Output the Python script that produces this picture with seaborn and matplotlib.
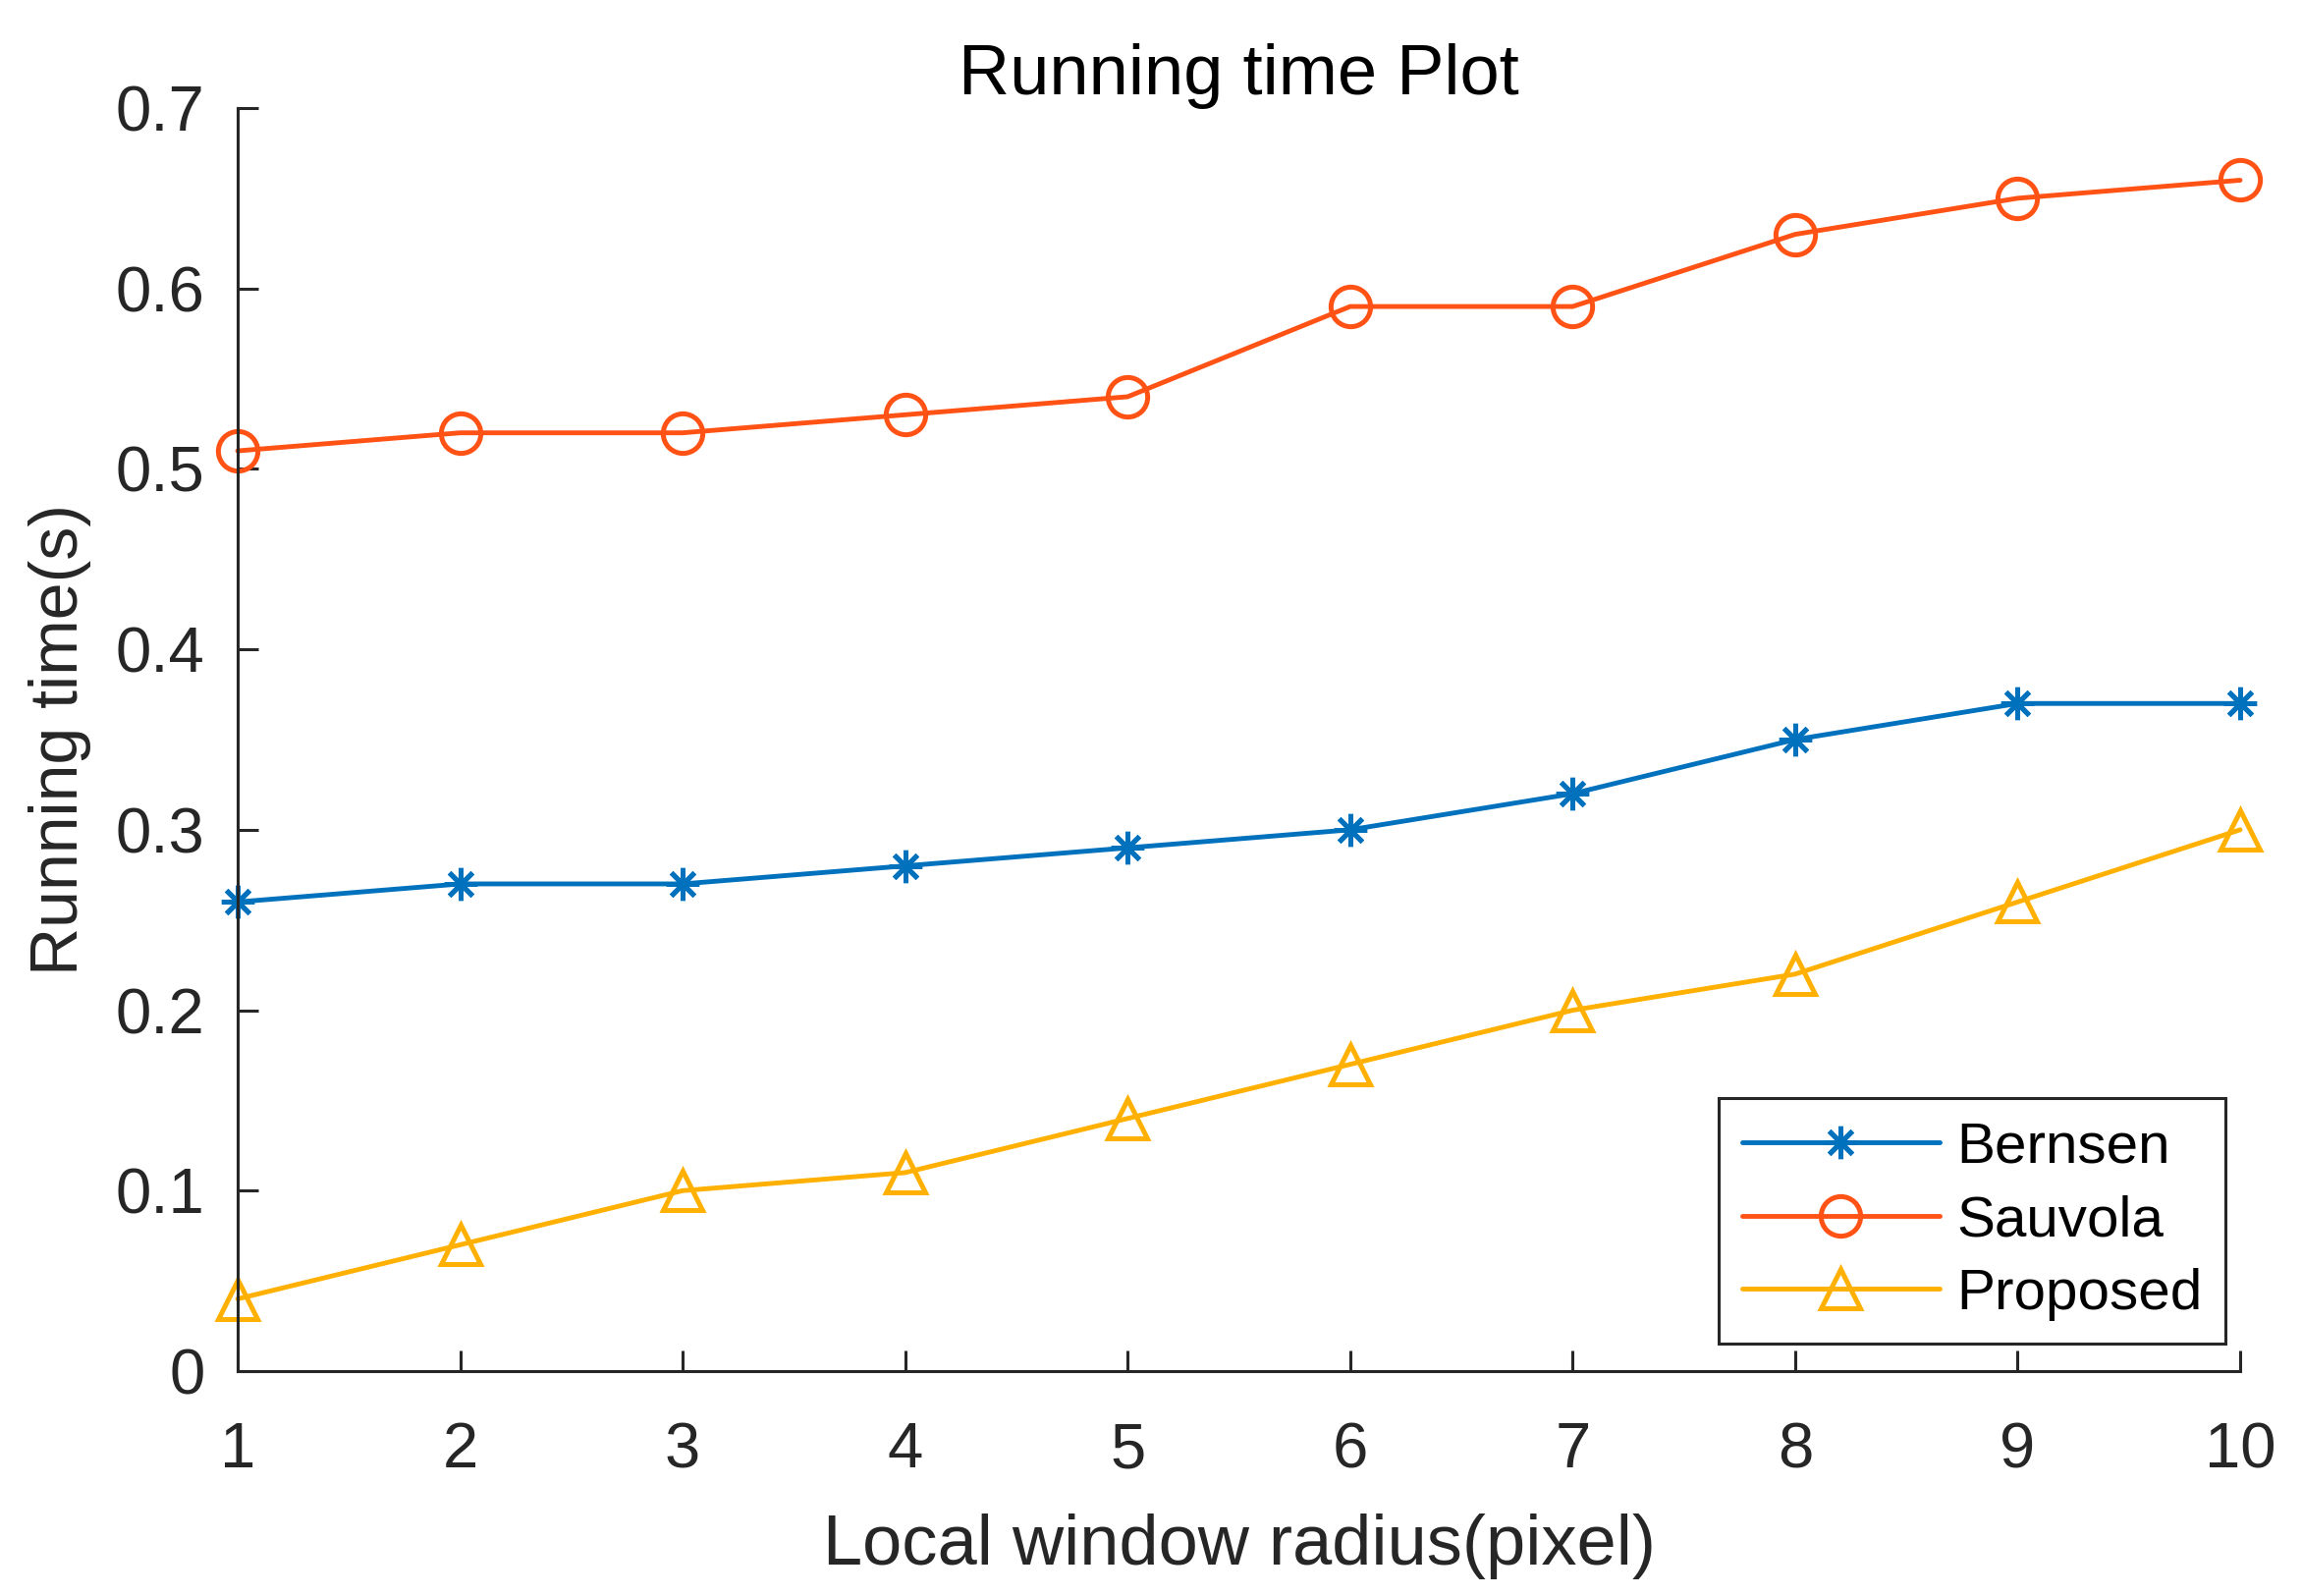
import matplotlib
matplotlib.use("Agg")
import matplotlib.pyplot as plt
import seaborn as sns
import pandas as pd

radius = [1, 2, 3, 4, 5, 6, 7, 8, 9, 10]
bernsen = [0.26, 0.27, 0.27, 0.28, 0.29, 0.30, 0.32, 0.35, 0.37, 0.37]
sauvola = [0.51, 0.52, 0.52, 0.53, 0.54, 0.59, 0.59, 0.63, 0.65, 0.66]
proposed = [0.04, 0.07, 0.10, 0.11, 0.14, 0.17, 0.20, 0.22, 0.26, 0.30]
series_names = ["Bernsen", "Sauvola", "Proposed"]
y_ticks = [0, 0.1, 0.2, 0.3, 0.4, 0.5, 0.6, 0.7]
y_tick_labels = ["0", "0.1", "0.2", "0.3", "0.4", "0.5", "0.6", "0.7"]

sns.set_theme(style="white")
plt.rcParams["font.family"] = ["Liberation Sans", "DejaVu Sans"]

colors = ["#0072BD", "#FF5214", "#FFB000"]
markers = [(8, 2, 0), "o", "^"]
msizes = [24, 29, 29]

fig = plt.figure(figsize=(23.44, 16.25), dpi=100)
left, right, bottom, top = 242 / 2344, 2281 / 2344, 1 - 1396 / 1625, 1 - 110 / 1625
ax = fig.add_axes([left, bottom, right - left, top - bottom])

for name, vals, c, m, ms in zip(series_names, [bernsen, sauvola, proposed], colors, markers, msizes):
    df = pd.DataFrame({"x": radius, "y": vals})
    sns.lineplot(data=df, x="x", y="y", ax=ax, color=c, marker=m, markersize=ms,
                 mfc="none" if m != (8, 2, 0) else c, mec=c, mew=3.6, linewidth=3.5,
                 label=name, clip_on=False)

ax.set_xlim(1, 10)
ax.set_ylim(0, 0.7)
ax.set_xticks(radius)
ax.set_xticklabels([str(r) for r in radius])
ax.set_yticks(y_ticks)
ax.set_yticklabels(y_tick_labels)

for s in ["top", "right"]:
    ax.spines[s].set_visible(False)
for s in ["left", "bottom"]:
    ax.spines[s].set_color("#262626")
    ax.spines[s].set_linewidth(2.2)

ax.tick_params(axis="both", which="major", direction="in", length=15, width=2.2,
               colors="#262626", labelsize=47, labelcolor="#262626",
               bottom=True, left=True, top=False, right=False)
ax.tick_params(axis="x", pad=37)
ax.tick_params(axis="y", pad=24)
ax.set_xlabel("Local window radius(pixel)", fontsize=52, color="#262626", labelpad=24)
ax.set_ylabel("Running time(s)", fontsize=49, color="#262626", labelpad=18)
ax.set_title("Running time Plot", fontsize=52, color="#000000", pad=10)

leg = ax.legend(loc="lower right", bbox_to_anchor=(0.9926, 0.0218), borderaxespad=0,
                fontsize=42, frameon=True, fancybox=False, edgecolor="#262626",
                framealpha=1, handlelength=3.45, borderpad=0.4, labelspacing=0.35,
                handletextpad=0.3)
leg.get_frame().set_linewidth(2.2)
for t in leg.get_texts():
    t.set_color("#000000")

fig.savefig("out.png", dpi=100, facecolor="white")
